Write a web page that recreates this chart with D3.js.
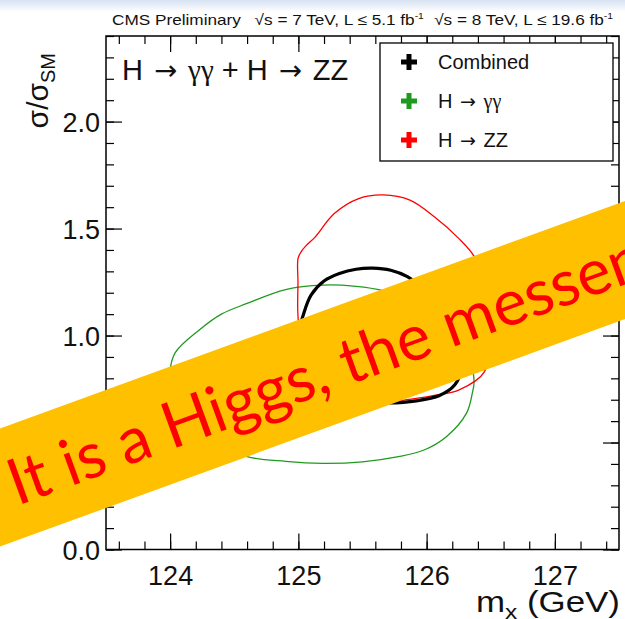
<!DOCTYPE html>
<html>
<head>
<meta charset="utf-8">
<script src="https://cdn.jsdelivr.net/npm/d3@7"></script>
<style>
  body { margin: 0; background: #fff; }
  svg { display: block; }
</style>
</head>
<body>
<div id="chart"></div>
<script>
// Tick labels on the axes.
var xTickValues = [124, 125, 126, 127];
var yTickValues = [0, 0.5, 1.0, 1.5, 2.0];

// Legend entries: [prefix, decay products].
var legendLabels = [['Combined', ''], ['H', '\u03b3\u03b3'], ['H', 'ZZ']];

// 68% CL contours, [m_x, sigma/sigma_SM].
var combinedContour = [
  [125.00, 1.00], [125.04, 1.10], [125.10, 1.19], [125.20, 1.255], [125.32, 1.29],
  [125.45, 1.31], [125.58, 1.315], [125.72, 1.305], [125.85, 1.275], [125.97, 1.22],
  [126.10, 1.14], [126.20, 1.05], [126.27, 0.95], [126.28, 0.86], [126.22, 0.77],
  [126.10, 0.72], [125.92, 0.695], [125.70, 0.685], [125.48, 0.69], [125.28, 0.72],
  [125.12, 0.79], [125.03, 0.88]
];
var gammaContour = [
  [125.19, 1.236], [125.45, 1.23], [125.66, 1.21], [125.85, 1.17], [126.05, 1.09],
  [126.22, 0.99], [126.33, 0.89], [126.37, 0.79], [126.356, 0.73], [126.31, 0.636],
  [126.154, 0.527], [125.98, 0.465], [125.78, 0.434], [125.5, 0.41], [125.19, 0.403],
  [124.9, 0.412], [124.6, 0.434], [124.35, 0.50], [124.15, 0.60], [124.03, 0.72],
  [124.00, 0.83], [124.04, 0.92], [124.227, 1.026], [124.4, 1.10], [124.6, 1.15],
  [124.9, 1.215]
];
var zzContour = [
  [124.997, 1.09], [124.997, 1.25], [124.997, 1.36], [125.02, 1.39], [125.06, 1.42],
  [125.13, 1.46], [125.28, 1.57], [125.47, 1.64], [125.66, 1.657], [125.87, 1.633],
  [126.06, 1.555], [126.25, 1.454], [126.37, 1.37], [126.43, 1.25], [126.46, 1.10],
  [126.47, 0.95], [126.45, 0.83], [126.25, 0.745], [126.06, 0.72], [125.85, 0.70],
  [125.6, 0.69], [125.35, 0.72], [125.15, 0.80], [125.03, 0.95]
];

var bannerText = 'It is a Higgs, the messenger';

// Page and frame geometry.
var WIDTH = 625;
var HEIGHT = 619;
var FRAME = {left: 106, right: 619, top: 36, bottom: 549.5};
var MAJOR = 16;
var MINOR = 8;
var ROOT_FONT = 'Liberation Sans, Arial, Helvetica, sans-serif';
var ARROW = '\u2192';

var x = d3.scaleLinear().domain([123.5, 127.5]).range([FRAME.left, FRAME.right]);
var y = d3.scaleLinear().domain([0, 2.4]).range([FRAME.bottom, FRAME.top]);

var svg = d3.select('#chart').append('svg')
  .attr('width', WIDTH)
  .attr('height', HEIGHT)
  .attr('font-family', ROOT_FONT);

// Light blue slide band at the very top.
var defs = svg.append('defs');
var grad = defs.append('linearGradient').attr('id', 'topband')
  .attr('x1', 0).attr('y1', 0).attr('x2', 0).attr('y2', 1);
grad.append('stop').attr('offset', '0%').attr('stop-color', '#d6e2f2');
grad.append('stop').attr('offset', '100%').attr('stop-color', '#ffffff');
svg.append('rect').attr('x', 0).attr('y', 0).attr('width', WIDTH).attr('height', 12)
  .attr('fill', 'url(#topband)');

// Contours.
var line = d3.line()
  .x(function(d) { return x(d[0]); })
  .y(function(d) { return y(d[1]); })
  .curve(d3.curveCatmullRomClosed.alpha(0.5));

svg.append('path').datum(gammaContour)
  .attr('d', line).attr('fill', 'none').attr('stroke', '#1f9a1f').attr('stroke-width', 1.3);
svg.append('path').datum(zzContour)
  .attr('d', line).attr('fill', 'none').attr('stroke', '#ff0000').attr('stroke-width', 1.3);
svg.append('path').datum(combinedContour)
  .attr('d', line).attr('fill', 'none').attr('stroke', '#000').attr('stroke-width', 3.2);

// Axes: ROOT style, ticks pointing into the frame on all four sides.
function minorTicks(scale, step) {
  var d = scale.domain(), out = [];
  for (var v = Math.ceil(d[0] / step - 1e-9) * step; v <= d[1] + 1e-9; v += step) {
    out.push(+v.toFixed(4));
  }
  return out;
}
var xMinor = minorTicks(x, 0.2);
var yMinor = minorTicks(y, 0.1);

function drawAxis(axisFn, scale, transform, values, size, labels) {
  var g = svg.append('g').attr('transform', transform)
    .call(axisFn(scale).tickValues(values).tickSize(size).tickPadding(labels ? 10 : 0)
      .tickFormat(labels ? labels : function() { return ''; }));
  g.select('.domain').remove();
  g.selectAll('.tick line').attr('stroke', '#000').attr('stroke-width', 1.2);
  return g;
}

var xb = drawAxis(d3.axisBottom, x, 'translate(0,' + FRAME.bottom + ')', xTickValues, -MAJOR,
  function(d) { return d; });
xb.selectAll('.tick text').attr('font-size', 27).attr('fill', '#111')
  .attr('y', 0).attr('dy', 35);
drawAxis(d3.axisBottom, x, 'translate(0,' + FRAME.bottom + ')', xMinor, -MINOR);
drawAxis(d3.axisTop, x, 'translate(0,' + FRAME.top + ')', xTickValues, -MAJOR);
drawAxis(d3.axisTop, x, 'translate(0,' + FRAME.top + ')', xMinor, -MINOR);

var yl = drawAxis(d3.axisLeft, y, 'translate(' + FRAME.left + ',0)', yTickValues, -MAJOR,
  d3.format('.1f'));
yl.selectAll('.tick text').attr('font-size', 27).attr('fill', '#111')
  .attr('x', -6).attr('dy', '0.36em');
drawAxis(d3.axisLeft, y, 'translate(' + FRAME.left + ',0)', yMinor, -MINOR);
drawAxis(d3.axisRight, y, 'translate(' + FRAME.right + ',0)', yTickValues, -MAJOR);
drawAxis(d3.axisRight, y, 'translate(' + FRAME.right + ',0)', yMinor, -MINOR);

svg.append('rect')
  .attr('x', FRAME.left).attr('y', FRAME.top)
  .attr('width', FRAME.right - FRAME.left).attr('height', FRAME.bottom - FRAME.top)
  .attr('fill', 'none').attr('stroke', '#000').attr('stroke-width', 1.5);

// Axis titles.
var xt = svg.append('text').attr('x', 620).attr('y', 612)
  .attr('text-anchor', 'end').attr('font-size', 30).attr('fill', '#111')
  .attr('textLength', 144).attr('lengthAdjust', 'spacingAndGlyphs');
xt.append('tspan').text('m');
xt.append('tspan').attr('font-size', 21).attr('dy', 7).text('x');
xt.append('tspan').attr('dy', -7).text(' (GeV)');

var yt = svg.append('text').attr('transform', 'translate(48,53) rotate(-90)')
  .attr('text-anchor', 'end').attr('font-size', 30).attr('fill', '#111');
yt.append('tspan').text('\u03c3/\u03c3');
yt.append('tspan').attr('font-size', 20).attr('dy', 7).text('SM');

// Header line.
var hd = svg.append('text').attr('x', 112).attr('y', 25)
  .attr('font-size', 15).attr('fill', '#111')
  .attr('textLength', 501).attr('lengthAdjust', 'spacingAndGlyphs');
hd.append('tspan').text('CMS Preliminary');
hd.append('tspan').attr('dx', 12).text('\u221as = 7 TeV, L \u2264 5.1 fb');
hd.append('tspan').attr('font-size', 9).attr('dy', -6).text('-1');
hd.append('tspan').attr('dx', 9).attr('dy', 6).text('\u221as = 8 TeV, L \u2264 19.6 fb');
hd.append('tspan').attr('font-size', 9).attr('dy', -6).text('-1');

// Process text with ROOT-like long arrows and serif gammas.
function decay(sel, prefix, products, size, lead) {
  sel.append('tspan').attr('dx', lead || 0).text(prefix);
  if (!products) return;
  sel.append('tspan').attr('font-family', 'DejaVu Sans').attr('font-size', size * 0.95)
    .attr('dx', size * 0.38).text(ARROW);
  var p = sel.append('tspan').attr('dx', size * 0.38);
  if (products.indexOf('\u03b3') >= 0) p.attr('font-family', 'Liberation Serif, serif');
  p.text(products);
}

var proc = svg.append('text').attr('x', 122).attr('y', 80)
  .attr('font-size', 29).attr('fill', '#111');
decay(proc, 'H', '\u03b3\u03b3', 29);
proc.append('tspan').attr('dx', 8).text('+');
decay(proc, 'H', 'ZZ', 29, 8);

// Legend.
var legendColors = ['#000', '#1f9a1f', '#ff0000'];
var lg = svg.append('g');
lg.append('rect').attr('x', 380).attr('y', 43).attr('width', 233).attr('height', 118)
  .attr('fill', '#fff').attr('stroke', '#000').attr('stroke-width', 1.3);
var entry = lg.selectAll('.entry').data(legendLabels).enter().append('g')
  .attr('class', 'entry')
  .attr('transform', function(d, i) { return 'translate(409,' + (62 + i * 39) + ')'; });
entry.append('rect').attr('x', -8).attr('y', -2.5).attr('width', 16).attr('height', 5)
  .attr('fill', function(d, i) { return legendColors[i]; });
entry.append('rect').attr('x', -2.5).attr('y', -8).attr('width', 5).attr('height', 16)
  .attr('fill', function(d, i) { return legendColors[i]; });
entry.append('text').attr('x', 29).attr('dy', '0.36em')
  .attr('font-size', 20).attr('fill', '#111')
  .each(function(d) { decay(d3.select(this), d[0], d[1], 20); });

// Orange banner across the plot.
var banner = svg.append('g').attr('transform', 'translate(0,487.5) rotate(-20)');
banner.append('rect').attr('x', -200).attr('y', -55.5).attr('width', 1100).attr('height', 111)
  .attr('fill', '#ffc000');
banner.append('text').attr('x', 10).attr('y', 23)
  .attr('font-family', 'Lato, "Open Sans", sans-serif')
  .attr('font-size', 64).attr('fill', '#ff0000')
  .text(bannerText);
</script>
</body>
</html>
